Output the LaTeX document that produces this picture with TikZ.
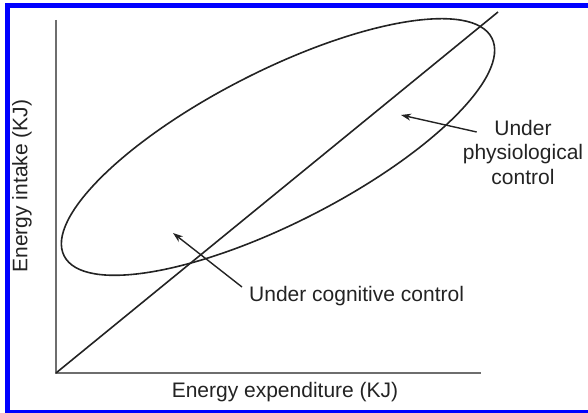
\documentclass[tikz,border=0pt]{standalone}
\usepackage{fontspec}
\setmainfont{Liberation Sans}
\usepackage{tikz}
\usepackage{xcolor}
\usetikzlibrary{arrows.meta,positioning,calc}
\definecolor{frameblue}{HTML}{0000FF}
\definecolor{axisgray}{HTML}{6E6E6E}
\definecolor{inkdark}{HTML}{232323}
\tikzset{
  axisLine/.style={line width=1.8pt, draw=axisgray},
  curveLine/.style={line width=1.6pt, draw=inkdark},
  ctrlArrow/.style={-{Stealth[length=10pt,width=7pt]}, line width=1.4pt, draw=inkdark},
  ctrlLabel/.style={font=\fontsize{21}{24.5}\selectfont, text=inkdark, align=center, inner sep=2pt}
}
\begin{document}
\begin{tikzpicture}[x=1pt,y=1pt]
  \useasboundingbox (0,0) rectangle (588,412);
  \draw[line width=5pt, draw=frameblue] (7,-0.5) rectangle (593,406.5);
  % axes
  \coordinate (origin) at (56,39);
  \coordinate (ytop) at (56,392);
  \coordinate (xend) at (481,39);
  \draw[axisLine] (ytop) -- (origin) -- (xend);
  \node[ctrlLabel] (xlabel) at (285,20) {Energy expenditure (KJ)};
  \node[ctrlLabel, rotate=90] (ylabel) at (22,226) {Energy intake (KJ)};
  % balance line and ellipse
  \coordinate (diagend) at (498,400);
  \draw[curveLine] (origin) -- (diagend);
  \draw[curveLine, rotate around={27:(278,265)}] (278,265) ellipse [x radius=240, y radius=76];
  % labels
  \node[ctrlLabel, anchor=west] (cog) at (247,116) {Under cognitive control};
  \node[ctrlLabel] (phys) at (523,260) {Under\\ physiological\\ control};
  \coordinate (cogtip) at (173,179);
  \coordinate (phystip) at (401,297);
  \draw[ctrlArrow] ($(cog.west)+(-5,9)$) -- (cogtip);
  \draw[ctrlArrow] ($(phys.west)+(16,20)$) -- (phystip);
\end{tikzpicture}
\end{document}
